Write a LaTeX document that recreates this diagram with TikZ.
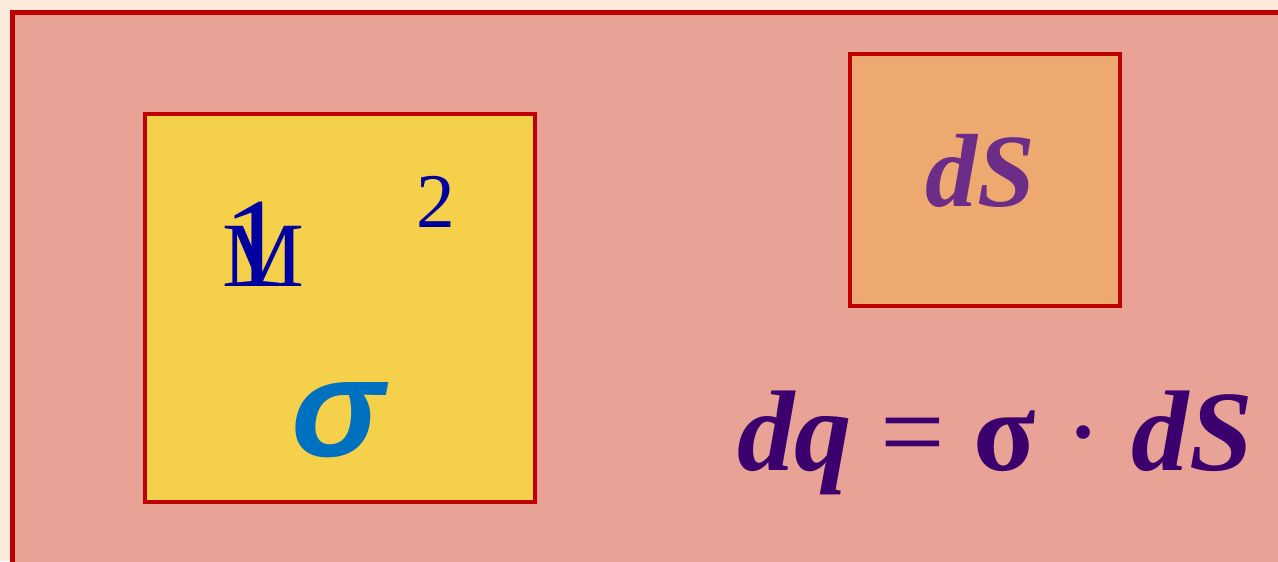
\documentclass[tikz,border=0pt]{standalone}
\usepackage{fontspec}
\setmainfont{Liberation Serif}
\newfontfamily\sigmafont{Liberation Sans}
\usepackage{xcolor}
\usetikzlibrary{positioning}
\definecolor{pagebg}{RGB}{253,236,222}
\definecolor{boxred}{RGB}{192,0,0}
\definecolor{surfpink}{RGB}{232,163,150}
\definecolor{areayellow}{RGB}{245,209,75}
\definecolor{elemorange}{RGB}{238,169,112}
\definecolor{unitblue}{RGB}{0,0,160}
\definecolor{sigmablue}{RGB}{0,112,192}
\definecolor{elempurple}{RGB}{107,45,136}
\definecolor{eqpurple}{RGB}{59,0,110}

\begin{document}
\begin{tikzpicture}[
	x=0.75pt, y=-0.75pt,
	panel/.style={rectangle, draw=boxred, line width=3.5pt, inner sep=0pt},
	label/.style={inner sep=0pt, anchor=base},
	unit/.style={label, text=unitblue},
	bigsize/.style={font=\fontsize{#1}{#1}\selectfont}
	]
	
	% Page and surface
	\clip (0,0) rectangle (1278,561);
	\fill[pagebg] (0,0) rectangle (1278,561);
	\node[panel, fill=surfpink, anchor=north west, minimum width=990pt,
	minimum height=450pt] (surface) at (10,10) {};
	
	% Unit area with density
	\node[panel, fill=areayellow, minimum width=292.5pt, minimum height=291pt]
	(area) at (340,308) {};
	\node[unit, bigsize=96] (one) at (255,286) {1};
	\node[unit, bigsize=69] (mlet) at (263,286) {M};
	\node[unit, bigsize=58] (two) at (436,227) {2};
	\node[label, text=sigmablue, font=\fontsize{105}{105}\sigmafont\bfseries\itshape]
	(sigma) at (338,456) {σ};
	
	% Surface element
	\node[panel, fill=elemorange, minimum width=202.5pt, minimum height=189pt]
	(elem) at (985,180) {};
	\node[label, text=elempurple, font=\fontsize{78}{78}\selectfont\bfseries\itshape]
	(ds) at (980,206) {dS};
	
	% Charge of the element
	\node[label, text=eqpurple, font=\fontsize{86}{86}\selectfont\bfseries\itshape]
	(charge) at (995,470) {dq {\normalfont =} {\upshape σ} {\normalfont ·} dS};
	
\end{tikzpicture}
\end{document}
